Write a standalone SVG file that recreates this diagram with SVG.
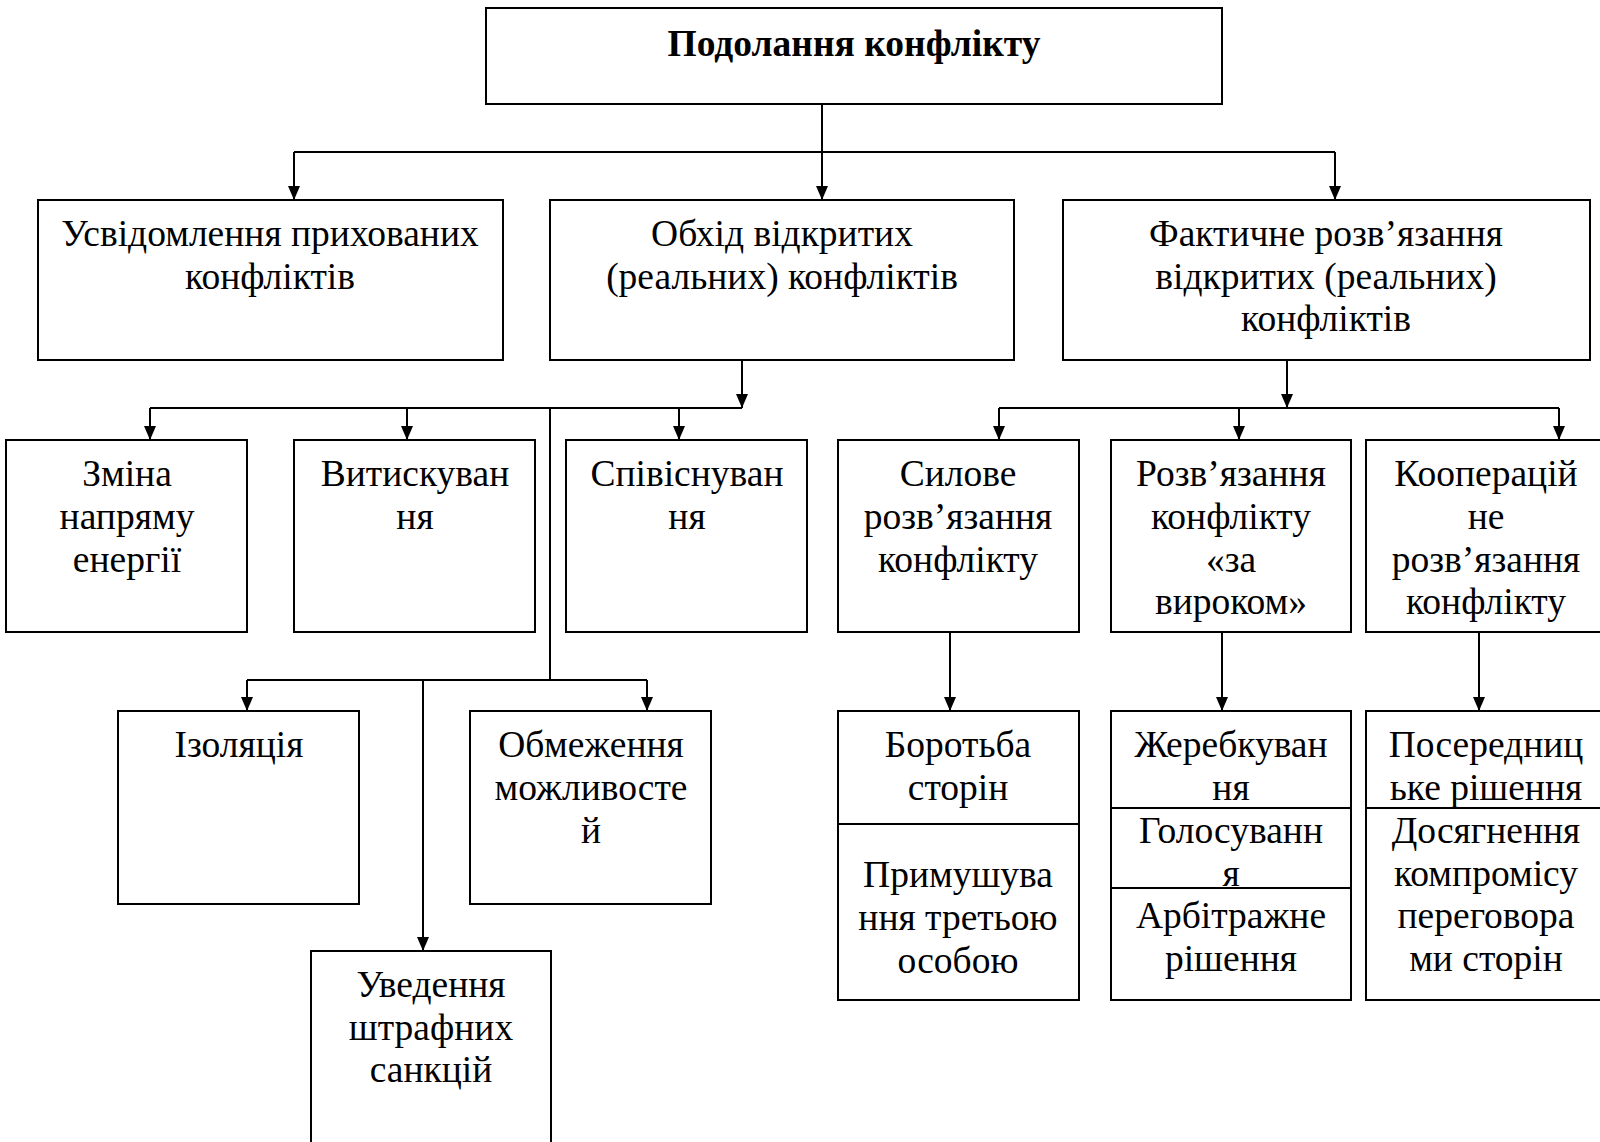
<svg xmlns="http://www.w3.org/2000/svg" width="1600" height="1142" viewBox="0 0 1600 1142">
<defs>
<style>
.b{fill:#fff;stroke:#000;stroke-width:2}
.d{stroke:#000;stroke-width:2}
.t{font-family:"Liberation Serif","Times New Roman",serif;font-size:37.5px;fill:#000;text-anchor:middle}
.h{font-weight:bold;font-size:37.5px}
.c{fill:none;stroke:#000;stroke-width:2}
</style>
<marker id="ar" markerUnits="userSpaceOnUse" markerWidth="14" markerHeight="12" refX="14" refY="6" orient="auto">
<path d="M0,0 L14,6 L0,12 z" fill="#000"/>
</marker>
</defs>
<rect width="1600" height="1142" fill="#fff"/>
<g id="connectors">
<path class="c" d="M822,104 V200" marker-end="url(#ar)"/>
<path class="c" d="M294,152 H1335"/>
<path class="c" d="M294,152 V200" marker-end="url(#ar)"/>
<path class="c" d="M1335,152 V200" marker-end="url(#ar)"/>
<path class="c" d="M742,360 V408" marker-end="url(#ar)"/>
<path class="c" d="M150,408 H742"/>
<path class="c" d="M150,408 V440" marker-end="url(#ar)"/>
<path class="c" d="M407,408 V440" marker-end="url(#ar)"/>
<path class="c" d="M679,408 V440" marker-end="url(#ar)"/>
<path class="c" d="M550,408 V680"/>
<path class="c" d="M247,680 H647"/>
<path class="c" d="M247,680 V711" marker-end="url(#ar)"/>
<path class="c" d="M647,680 V711" marker-end="url(#ar)"/>
<path class="c" d="M423,680 V951" marker-end="url(#ar)"/>
<path class="c" d="M1287,360 V408" marker-end="url(#ar)"/>
<path class="c" d="M999,408 H1559"/>
<path class="c" d="M999,408 V440" marker-end="url(#ar)"/>
<path class="c" d="M1239,408 V440" marker-end="url(#ar)"/>
<path class="c" d="M1559,408 V440" marker-end="url(#ar)"/>
<path class="c" d="M950,632 V711" marker-end="url(#ar)"/>
<path class="c" d="M1222,632 V711" marker-end="url(#ar)"/>
<path class="c" d="M1479,632 V711" marker-end="url(#ar)"/>
</g>
<g id="root">
<rect class="b" x="486" y="8" width="736" height="96"/>
<text class="t h" x="854" y="56">Подолання конфлікту</text>
</g>
<g id="n-aware">
<rect class="b" x="38" y="200" width="465" height="160"/>
<text class="t" x="270" y="246">Усвідомлення прихованих</text>
<text class="t" x="270" y="289">конфліктів</text>
</g>
<g id="n-bypass">
<rect class="b" x="550" y="200" width="464" height="160"/>
<text class="t" x="782" y="246">Обхід відкритих</text>
<text class="t" x="782" y="289">(реальних) конфліктів</text>
</g>
<g id="n-actual">
<rect class="b" x="1063" y="200" width="527" height="160"/>
<text class="t" x="1326" y="246">Фактичне розв’язання</text>
<text class="t" x="1326" y="289">відкритих (реальних)</text>
<text class="t" x="1326" y="331">конфліктів</text>
</g>
<g id="n-change">
<rect class="b" x="6" y="440" width="241" height="192"/>
<text class="t" x="127" y="486">Зміна</text>
<text class="t" x="127" y="529">напряму</text>
<text class="t" x="127" y="572">енергії</text>
</g>
<g id="n-squeeze">
<rect class="b" x="294" y="440" width="241" height="192"/>
<text class="t" x="415" y="486">Витискуван</text>
<text class="t" x="415" y="529">ня</text>
</g>
<g id="n-coexist">
<rect class="b" x="566" y="440" width="241" height="192"/>
<text class="t" x="687" y="486">Співіснуван</text>
<text class="t" x="687" y="529">ня</text>
</g>
<g id="n-isolation">
<rect class="b" x="118" y="711" width="241" height="193"/>
<text class="t" x="239" y="757">Ізоляція</text>
</g>
<g id="n-limit">
<rect class="b" x="470" y="711" width="241" height="193"/>
<text class="t" x="591" y="757">Обмеження</text>
<text class="t" x="591" y="800">можливосте</text>
<text class="t" x="591" y="843">й</text>
</g>
<g id="n-sanctions">
<rect class="b" x="311" y="951" width="240" height="200"/>
<text class="t" x="431" y="997">Уведення</text>
<text class="t" x="431" y="1040">штрафних</text>
<text class="t" x="431" y="1082">санкцій</text>
</g>
<g id="n-force">
<rect class="b" x="838" y="440" width="241" height="192"/>
<text class="t" x="958" y="486">Силове</text>
<text class="t" x="958" y="529">розв’язання</text>
<text class="t" x="958" y="572">конфлікту</text>
</g>
<g id="n-verdict">
<rect class="b" x="1111" y="440" width="240" height="192"/>
<text class="t" x="1231" y="486">Розв’язання</text>
<text class="t" x="1231" y="529">конфлікту</text>
<text class="t" x="1231" y="572">«за</text>
<text class="t" x="1231" y="614">вироком»</text>
</g>
<g id="n-coop">
<rect class="b" x="1366" y="440" width="241" height="192"/>
<text class="t" x="1486" y="486">Кооперацій</text>
<text class="t" x="1486" y="529">не</text>
<text class="t" x="1486" y="572">розв’язання</text>
<text class="t" x="1486" y="614">конфлікту</text>
</g>
<g id="n-force-sub">
<rect class="b" x="838" y="711" width="241" height="289"/>
<line class="d" x1="838" y1="824" x2="1079" y2="824"/>
<text class="t" x="958" y="757">Боротьба</text>
<text class="t" x="958" y="800">сторін</text>
<text class="t" x="958" y="887">Примушува</text>
<text class="t" x="958" y="930">ння третьою</text>
<text class="t" x="958" y="973">особою</text>
</g>
<g id="n-verdict-sub">
<rect class="b" x="1111" y="711" width="240" height="289"/>
<line class="d" x1="1111" y1="808" x2="1351" y2="808"/>
<line class="d" x1="1111" y1="888" x2="1351" y2="888"/>
<text class="t" x="1231" y="757">Жеребкуван</text>
<text class="t" x="1231" y="800">ня</text>
<text class="t" x="1231" y="843">Голосуванн</text>
<text class="t" x="1231" y="886">я</text>
<text class="t" x="1231" y="928">Арбітражне</text>
<text class="t" x="1231" y="971">рішення</text>
</g>
<g id="n-coop-sub">
<rect class="b" x="1366" y="711" width="241" height="289"/>
<line class="d" x1="1366" y1="808" x2="1607" y2="808"/>
<text class="t" x="1486" y="757">Посередниц</text>
<text class="t" x="1486" y="800">ьке рішення</text>
<text class="t" x="1486" y="843">Досягнення</text>
<text class="t" x="1486" y="886">компромісу</text>
<text class="t" x="1486" y="928">переговора</text>
<text class="t" x="1486" y="971">ми сторін</text>
</g>
</svg>
